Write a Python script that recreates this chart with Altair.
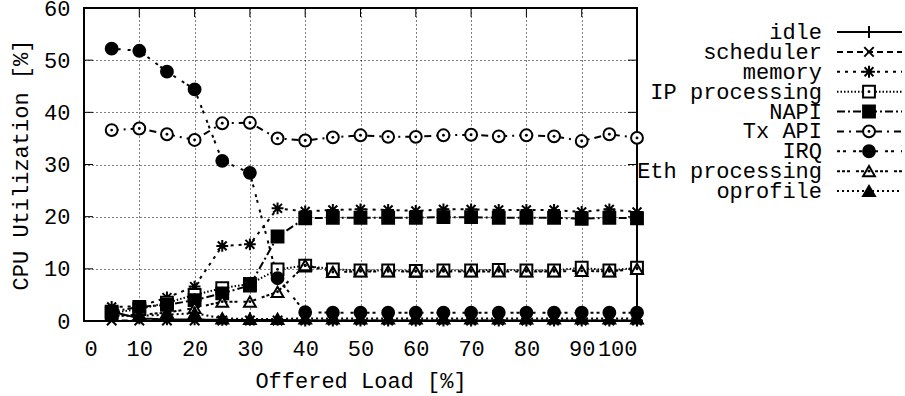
import altair as alt
import pandas as pd

FONT = "'Courier New', Courier, 'Nimbus Mono PS', FreeMono, 'Liberation Mono', monospace"

loads = [5, 10, 15, 20, 25, 30, 35, 40, 45, 50, 55, 60, 65, 70, 75, 80, 85, 90, 95, 100]
series_names = ["idle", "scheduler", "memory", "IP processing", "NAPI",
                "Tx API", "IRQ", "Eth processing", "oprofile"]

idle = [1.8, 0.5, 0.3, 0.3, 0.2, 0.2, 0.2, 0.1, 0.1, 0.1, 0.1, 0.1, 0.1, 0.1, 0.1, 0.1, 0.1, 0.1, 0.1, 0.1]
scheduler = [0.1, 0.1, 0.1, 0.1, 0.1, 0.1, 0.1, 0.1, 0.1, 0.1, 0.1, 0.1, 0.1, 0.1, 0.1, 0.1, 0.1, 0.1, 0.1, 0.1]
memory = [2.7, 2.8, 4.5, 6.6, 14.4, 14.7, 21.6, 21.0, 21.3, 21.4, 21.3, 21.1, 21.4, 21.4, 21.3, 21.3, 21.3, 20.9, 21.4, 20.9]
ip_processing = [1.5, 2.3, 3.5, 5.0, 6.3, 7.1, 9.9, 10.6, 9.9, 9.7, 9.7, 9.6, 9.7, 9.7, 9.8, 9.7, 9.7, 10.2, 9.7, 10.2]
napi = [1.8, 2.7, 3.1, 4.0, 5.3, 6.8, 16.2, 19.7, 19.8, 19.8, 19.8, 19.8, 19.9, 19.9, 19.8, 19.8, 19.8, 19.6, 19.8, 19.7]
tx_api = [36.6, 36.9, 35.8, 34.7, 37.9, 38.0, 35.0, 34.6, 35.2, 35.6, 35.3, 35.3, 35.6, 35.7, 35.4, 35.6, 35.4, 34.5, 35.8, 35.1]
irq = [52.2, 51.8, 47.8, 44.4, 30.7, 28.4, 8.2, 1.7, 1.6, 1.6, 1.6, 1.6, 1.6, 1.6, 1.6, 1.6, 1.6, 1.6, 1.6, 1.6]
eth_processing = [1.0, 1.2, 1.6, 2.5, 3.7, 3.7, 5.6, 10.7, 9.4, 9.5, 9.5, 9.5, 9.5, 9.5, 9.5, 9.5, 9.5, 9.6, 9.5, 10.0]
oprofile = [1.0, 1.0, 1.2, 1.5, 0.5, 0.4, 0.4, 0.5, 0.5, 0.5, 0.5, 0.5, 0.5, 0.5, 0.5, 0.5, 0.5, 0.5, 0.5, 0.5]

all_series = [idle, scheduler, memory, ip_processing, napi, tx_api, irq, eth_processing, oprofile]

rows = []
for name, vals in zip(series_names, all_series):
    for l, v in zip(loads, vals):
        rows.append({"series": name, "load": l, "cpu": v})
df = pd.DataFrame(rows)

open_series = ["IP processing", "Tx API", "Eth processing"]

PLUS = "M-1,0L1,0M0,-1L0,1"
CROSS = "M-0.8,-0.8L0.8,0.8M-0.8,0.8L0.8,-0.8"
STAR = "M-1,0L1,0M0,-1L0,1M-0.75,-0.75L0.75,0.75M-0.75,0.75L0.75,-0.75"
shapes = [PLUS, CROSS, STAR, "square", "square", "circle", "circle", "triangle-up", "triangle-up"]
fills = ["transparent", "transparent", "transparent", "white", "black", "white", "black", "white", "black"]
dashes = [[1, 0], [6, 4], [3, 5], [1.5, 2], [8, 3, 2, 3], [7, 5, 2, 5], [3, 3, 3, 7], [3, 2, 3, 2, 3, 6], [2, 3]]

dash_scale = alt.Scale(domain=series_names, range=dashes)
shape_scale = alt.Scale(domain=series_names, range=shapes)
fill_scale = alt.Scale(domain=series_names, range=fills)

x_ticks = list(range(0, 101, 10))
y_ticks = list(range(0, 61, 10))

X = alt.X("load:Q", scale=alt.Scale(domain=[0, 100], nice=False),
          axis=alt.Axis(values=x_ticks, title="Offered Load [%]", labelPadding=17, titlePadding=11))
Y = alt.Y("cpu:Q", scale=alt.Scale(domain=[0, 60], nice=False),
          axis=alt.Axis(values=y_ticks, title="CPU Utilization [%]", labelPadding=14, titlePadding=11))

base = alt.Chart(df)

lines = base.mark_line(color="black", strokeWidth=2).encode(
    x=X, y=Y,
    strokeDash=alt.StrokeDash("series:N", scale=dash_scale, legend=None),
    detail="series:N",
)

points = base.mark_point(filled=True, stroke="black", strokeWidth=2, size=140, opacity=1).encode(
    x=X, y=Y,
    shape=alt.Shape("series:N", scale=shape_scale, legend=None),
    fill=alt.Fill("series:N", scale=fill_scale, legend=None),
)

dots = base.transform_filter(
    alt.FieldOneOfPredicate(field="series", oneOf=open_series)
).mark_circle(size=8, color="black", opacity=1).encode(x=X, y=Y)

xt = pd.DataFrame({"load": x_ticks})
yt = pd.DataFrame({"cpu": y_ticks})
tick_bottom = alt.Chart(xt).mark_rule(color="black", strokeWidth=1).encode(
    x="load:Q", y=alt.value(313), y2=alt.value(304))
tick_top = alt.Chart(xt).mark_rule(color="black", strokeWidth=1).encode(
    x="load:Q", y=alt.value(0), y2=alt.value(9))
tick_left = alt.Chart(yt).mark_rule(color="black", strokeWidth=1).encode(
    y="cpu:Q", x=alt.value(0), x2=alt.value(9))
tick_right = alt.Chart(yt).mark_rule(color="black", strokeWidth=1).encode(
    y="cpu:Q", x=alt.value(553), x2=alt.value(544))

main = alt.layer(lines, tick_bottom, tick_top, tick_left, tick_right, points, dots)

leg_df = pd.DataFrame({"series": series_names})
LY = alt.Y("series:N", scale=alt.Scale(type="point", domain=series_names, range=[24, 183], padding=0), axis=None)
leg_base = alt.Chart(leg_df)
leg_text = leg_base.mark_text(align="right", baseline="middle", font=FONT, fontSize=22, color="black").encode(
    x=alt.value(738), y=LY, text="series:N")
leg_line = leg_base.mark_rule(color="black", strokeWidth=2).encode(
    x=alt.value(753), x2=alt.value(818), y=LY,
    strokeDash=alt.StrokeDash("series:N", scale=dash_scale, legend=None))
leg_pt = leg_base.mark_point(filled=True, stroke="black", strokeWidth=2, size=140, opacity=1).encode(
    x=alt.value(785), y=LY,
    shape=alt.Shape("series:N", scale=shape_scale, legend=None),
    fill=alt.Fill("series:N", scale=fill_scale, legend=None))
leg_dot = leg_base.transform_filter(
    alt.FieldOneOfPredicate(field="series", oneOf=open_series)
).mark_circle(size=8, color="black", opacity=1).encode(x=alt.value(785), y=LY)

legend = alt.layer(leg_line, leg_pt, leg_dot, leg_text)

chart = alt.layer(main, legend).resolve_scale(y="independent").properties(
    width=553, height=313,
    padding={"left": 84, "top": 8, "right": 268, "bottom": 75},
    autosize=alt.AutoSizeParams(type="none"),
    background="white",
).configure_view(
    stroke="black", strokeWidth=2
).configure_axis(
    grid=True, gridDash=[1, 3], gridColor="black", gridWidth=1, gridOpacity=1,
    ticks=False, domain=False,
    labelFont=FONT, labelFontSize=22, labelColor="black",
    titleFont=FONT, titleFontSize=22, titleFontWeight="normal", titleColor="black",
)

chart.save("out.html", embed_options={"renderer": "svg", "actions": False})
